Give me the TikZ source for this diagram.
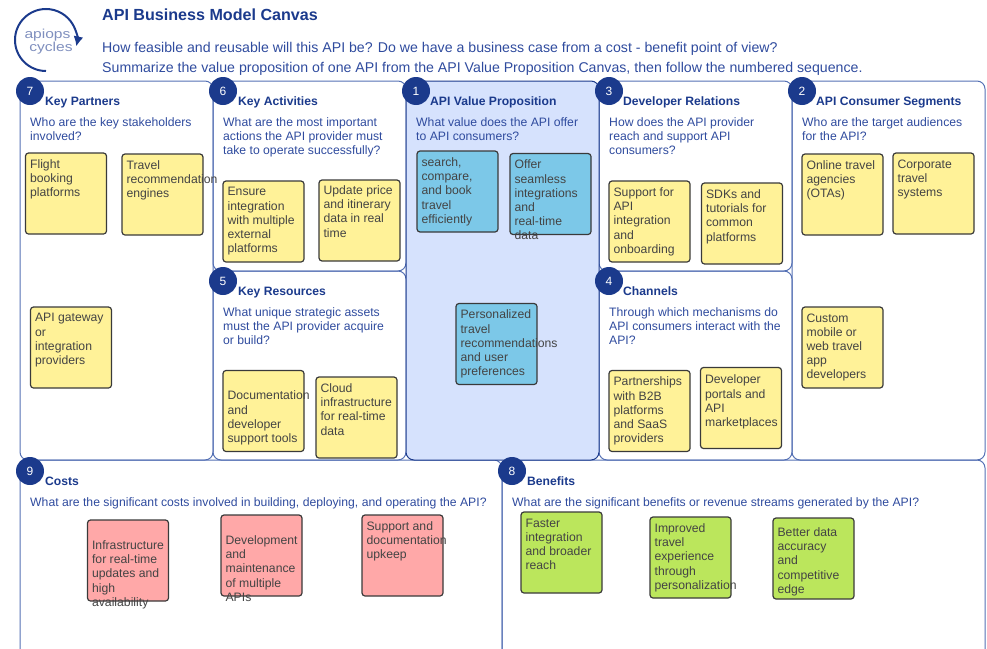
\documentclass[tikz,border=0pt]{standalone}
\usepackage{fontspec}
\setmainfont{Liberation Sans}
\usetikzlibrary{arrows.meta}
\definecolor{navy}{HTML}{1B3A8C}
\definecolor{ink}{HTML}{2F4B9E}
\definecolor{frame}{HTML}{5470B4}
\definecolor{logotxt}{HTML}{7F8FBE}
\definecolor{valuefill}{HTML}{D6E2FD}
\definecolor{noteedge}{HTML}{3A3A3A}
\definecolor{notetxt}{HTML}{444444}
\definecolor{noteyellow}{HTML}{FFF298}
\definecolor{noteblue}{HTML}{7CC8E8}
\definecolor{notered}{HTML}{FFA8A8}
\definecolor{notegreen}{HTML}{BBE65C}
\tikzset{
	panel/.style 2 args={rectangle,draw=frame,line width=1pt,rounded corners=8pt,minimum width=#1,minimum height=#2,inner sep=0pt},
	num/.style={circle,fill=navy,text=white,minimum size=28pt,inner sep=0pt,font=\fontsize{12}{14}\selectfont},
	head/.style={anchor=base west,inner sep=0pt,text=navy,font=\fontsize{12.15}{14}\selectfont\bfseries},
	ask/.style={anchor=north west,inner sep=0pt,align=left,text=ink,font=\fontsize{12.2}{14.2}\selectfont},
	lead/.style={anchor=base west,inner sep=0pt,text=ink,font=\fontsize{14.15}{17}\selectfont},
	logotext/.style={inner sep=0pt,text=logotxt,xscale=1.2,transform shape,font=\fontsize{13}{13}\selectfont},
	notetext/.style={anchor=north west,inner sep=0pt,align=left,text=notetxt,xshift=5pt,font=\fontsize{12.2}{14.2}\selectfont},
	note/.style n args={3}{rectangle,rounded corners=3pt,draw=noteedge,line width=1.2pt,fill=#1,minimum size=81pt,inner sep=0pt,label={[notetext,yshift=-#2]north west:{#3}}},
	ynote/.style 2 args={note={noteyellow}{#1}{#2}},
	bnote/.style 2 args={note={noteblue}{#1}{#2}},
	rnote/.style 2 args={note={notered}{#1}{#2}},
	gnote/.style 2 args={note={notegreen}{#1}{#2}}
}

\begin{document}
\begin{tikzpicture}[x=1pt,y=-1pt]
	\useasboundingbox (0,0) rectangle (987,648);
	\clip (0,0) rectangle (987,648);

	% logo
	\coordinate (arcstart) at (46,71);
	\draw [navy,line width=2pt,-{Latex[length=10pt,width=10pt]}] (arcstart) arc [start angle=90,end angle=372,radius=31];
	\node [logotext] (apiops) at (47.5,35.5) {apiops};
	\node [logotext] (cycles) at (51,48) {cycles};

	% heading
	\node [anchor=base west,inner sep=0pt,text=navy,font=\fontsize{16.1}{18}\selectfont\bfseries] (title) at (102,20) {API Business Model Canvas};
	\node [lead] (lead1) at (102,52) {How feasible and reusable will this API be? Do we have a business case from a cost - benefit point of view?};
	\node [lead] (lead2) at (102,72) {Summarize the value proposition of one API from the API Value Proposition Canvas, then follow the numbered sequence.};

	% panels
	\node [panel={193pt}{379pt}] (partners) at (116.5,270.5) {};
	\node [panel={193pt}{190pt}] (activities) at (309.5,176) {};
	\node [panel={193pt}{189pt}] (resources) at (309.5,365.5) {};
	\node [panel={193pt}{190pt}] (relations) at (695.5,176) {};
	\node [panel={193pt}{189pt}] (channels) at (695.5,365.5) {};
	\node [panel={193pt}{379pt}] (segments) at (888.5,270.5) {};
	\node [panel={482pt}{220pt}] (costs) at (261,570) {};
	\node [panel={483pt}{220pt}] (benefits) at (743.5,570) {};
	\node [panel={193pt}{379pt},fill=valuefill,draw=navy] (value) at (502.5,270.5) {};

	% numbers
	\node [num] (n7) at (30,91) {7};
	\node [num] (n6) at (223,91) {6};
	\node [num] (n1) at (416,91) {1};
	\node [num] (n3) at (609,91) {3};
	\node [num] (n2) at (802,91) {2};
	\node [num] (n5) at (223,281) {5};
	\node [num] (n4) at (609,281) {4};
	\node [num] (n9) at (30,471) {9};
	\node [num] (n8) at (512,471) {8};

	% headings and questions
	\node [head] (h7) at (45,105) {Key Partners};
	\node [head] (h6) at (238,105) {Key Activities};
	\node [head] (h1) at (430,105) {API Value Proposition};
	\node [head] (h3) at (623,105) {Developer Relations};
	\node [head] (h2) at (816,105) {API Consumer Segments};
	\node [head] (h5) at (238,295) {Key Resources};
	\node [head] (h4) at (623,295) {Channels};
	\node [head] (h9) at (45,485) {Costs};
	\node [head] (h8) at (527,485) {Benefits};

	\node [ask] (q7) at (30,117.5) {Who are the key stakeholders\\involved?};
	\node [ask] (q6) at (223,117.5) {What are the most important\\actions the API provider must\\take to operate successfully?};
	\node [ask] (q1) at (416,117.5) {What value does the API offer\\to API consumers?};
	\node [ask] (q3) at (609,117.5) {How does the API provider\\reach and support API\\consumers?};
	\node [ask] (q2) at (802,117.5) {Who are the target audiences\\for the API?};
	\node [ask] (q5) at (223,307) {What unique strategic assets\\must the API provider acquire\\or build?};
	\node [ask] (q4) at (609,307) {Through which mechanisms do\\API consumers interact with the\\API?};
	\node [ask] (q9) at (30,497) {What are the significant costs involved in building, deploying, and operating the API?};
	\node [ask] (q8) at (512,497) {What are the significant benefits or revenue streams generated by the API?};

	% notes
	\node [ynote={7pt}{Flight\\booking\\platforms}] (flight) at (66,193.5) {};
	\node [ynote={7pt}{Travel\\recommendation\\engines}] (travel) at (162.5,194.5) {};
	\node [ynote={7pt}{API gateway\\or\\integration\\providers}] (gateway) at (71,347.5) {};
	\node [ynote={7pt}{Ensure\\integration\\with multiple\\external\\platforms}] (ensure) at (263.5,221.5) {};
	\node [ynote={6pt}{Update price\\and itinerary\\data in real\\time}] (update) at (359.5,220.5) {};
	\node [ynote={21pt}{Documentation\\and\\developer\\support tools}] (docs) at (263.5,411) {};
	\node [ynote={7pt}{Cloud\\infrastructure\\for real-time\\data}] (cloud) at (356.5,417.5) {};
	\node [bnote={7pt}{search,\\compare,\\and book\\travel\\efficiently}] (search) at (457.5,191.5) {};
	\node [bnote={7pt}{Offer\\seamless\\integrations\\and\\real-time\\data}] (offer) at (550.5,194) {};
	\node [bnote={7pt}{Personalized\\travel\\recommendations\\and user\\preferences}] (personal) at (496.5,344) {};
	\node [ynote={7pt}{Support for\\API\\integration\\and\\onboarding}] (support) at (649.5,221.5) {};
	\node [ynote={7pt}{SDKs and\\tutorials for\\common\\platforms}] (sdks) at (742,223.5) {};
	\node [ynote={7pt}{Partnerships\\with B2B\\platforms\\and SaaS\\providers}] (b2b) at (649.5,411) {};
	\node [ynote={8pt}{Developer\\portals and\\API\\marketplaces}] (portals) at (741,408) {};
	\node [ynote={7pt}{Online travel\\agencies\\(OTAs)}] (online) at (842.5,194.5) {};
	\node [ynote={7pt}{Corporate\\travel\\systems}] (corporate) at (933.5,193.5) {};
	\node [ynote={7pt}{Custom\\mobile or\\web travel\\app\\developers}] (custom) at (842.5,347.5) {};
	\node [rnote={21pt}{Infrastructure\\for real-time\\updates and\\high\\availability}] (infra) at (128,560.5) {};
	\node [rnote={21pt}{Development\\and\\maintenance\\of multiple\\APIs}] (devel) at (261.5,555.5) {};
	\node [rnote={7pt}{Support and\\documentation\\upkeep}] (upkeep) at (402.5,555.5) {};
	\node [gnote={7pt}{Faster\\integration\\and broader\\reach}] (faster) at (561.5,552.5) {};
	\node [gnote={7pt}{Improved\\travel\\experience\\through\\personalization}] (improved) at (690.5,557.5) {};
	\node [gnote={10pt}{Better data\\accuracy\\and\\competitive\\edge}] (better) at (813.5,558.5) {};
\end{tikzpicture}
\end{document}
